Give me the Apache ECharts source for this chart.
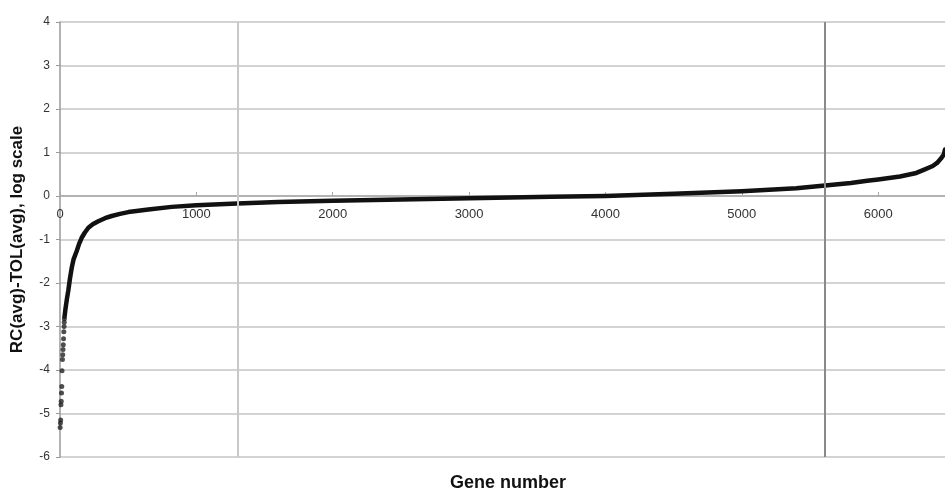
<!DOCTYPE html>
<html>
<head>
<meta charset="utf-8">
<script src="https://cdn.jsdelivr.net/npm/echarts@6/dist/echarts.min.js"></script>
<style>html,body{margin:0;padding:0;background:#fff}#c{width:945px;height:494px}</style>
</head>
<body>
<div id="c"></div>
<script>
// Low tail: individual genes (sorted ascending)
var tailGenes = [1, 3, 5, 7, 9, 11, 13, 15, 18, 20, 22, 24, 26, 28, 30, 31, 32];
var tailValues = [-5.32, -5.22, -5.15, -4.8, -4.72, -4.53, -4.38, -4.02, -3.76, -3.65, -3.53, -3.42, -3.28, -3.12, -3.0, -2.9, -2.82];
var curveGenes = [33, 40, 50, 61, 73, 86, 100, 122, 140, 159, 180, 208, 240, 281, 330, 379, 440, 501, 648, 819, 1000, 1300, 1600, 2000, 2500, 3000, 3600, 4000, 4500, 5000, 5400, 5610, 5800, 5920, 6000, 6160, 6280, 6334, 6400, 6432, 6460, 6481, 6490];
var curveValues = [-2.78, -2.6, -2.38, -2.17, -1.9, -1.65, -1.45, -1.27, -1.1, -0.96, -0.85, -0.73, -0.65, -0.58, -0.51, -0.46, -0.41, -0.37, -0.31, -0.25, -0.21, -0.17, -0.14, -0.11, -0.08, -0.05, -0.02, 0.0, 0.05, 0.11, 0.18, 0.24, 0.3, 0.35, 0.38, 0.45, 0.53, 0.6, 0.69, 0.76, 0.86, 0.95, 1.07];
// Two vertical reference lines visible in the figure
var refLines = [1300, 5610];
var yTicks = [-6, -5, -4, -3, -2, -1, 0, 1, 2, 3, 4];
var xTicks = [0, 1000, 2000, 3000, 4000, 5000, 6000];

var FONT = "'Liberation Sans', Arial, sans-serif";
var tail = tailGenes.map(function (g, i) { return [g, tailValues[i]]; });
var curve = curveGenes.map(function (g, i) { return [g, curveValues[i]]; });

var GRID_TOP = 22, GRID_BOTTOM = 37, H = 494;
var plotH = H - GRID_TOP - GRID_BOTTOM;
var yMin = yTicks[0], yMax = yTicks[yTicks.length - 1];
// distance from bottom edge of the plot up to the value-0 line
var zeroOffset = plotH * (0 - yMin) / (yMax - yMin);

var chart = echarts.init(document.getElementById('c'));
chart.setOption({
  animation: false,
  backgroundColor: '#ffffff',
  grid: { left: 60, right: 0, top: GRID_TOP, bottom: GRID_BOTTOM, containLabel: false },
  xAxis: {
    type: 'value', min: 0, max: 6490, interval: 1000,
    offset: -zeroOffset,
    axisLine: { onZero: false, lineStyle: { color: '#a8a8a8', width: 1.5 } },
    axisTick: { show: true, inside: true, length: 4, lineStyle: { color: '#a8a8a8' } },
    axisLabel: {
      show: true, margin: 12, fontSize: 13, color: '#333', fontFamily: FONT, showMaxLabel: false,
      formatter: function (v) { return xTicks.indexOf(v) >= 0 ? String(v) : ''; }
    },
    splitLine: { show: false }
  },
  yAxis: {
    type: 'value', min: yMin, max: yMax, interval: 1,
    name: 'RC(avg)-TOL(avg), log scale', nameLocation: 'middle', nameGap: 34,
    nameTextStyle: { fontSize: 17, fontWeight: 'bold', color: '#111', fontFamily: FONT },
    axisLine: { show: true, lineStyle: { color: '#999', width: 1.5 } },
    axisTick: { show: true, length: 4, lineStyle: { color: '#999' } },
    axisLabel: { margin: 10, fontSize: 12, color: '#333', fontFamily: FONT },
    splitLine: { show: true, lineStyle: { color: '#c4c4c4', width: 1.5 } }
  },
  graphic: [{
    type: 'text', left: 450, top: 474,
    style: { text: 'Gene number', fontSize: 18, fontWeight: 'bold', fill: '#111', fontFamily: FONT }
  }],
  series: [
    {
      type: 'line', data: curve, smooth: false, showSymbol: false,
      lineStyle: { color: '#111', width: 4.5, join: 'round', cap: 'round' }, z: 3,
      markLine: {
        silent: true, symbol: ['none', 'none'], label: { show: false },
        data: [
          { xAxis: refLines[0], lineStyle: { color: '#c8c8c8', width: 2, type: 'solid' } },
          { xAxis: refLines[1], lineStyle: { color: '#8a8a8a', width: 2, type: 'solid' } }
        ]
      }
    },
    {
      type: 'scatter', data: tail, symbolSize: 5,
      itemStyle: { color: '#222' }, z: 4
    }
  ]
});
</script>
</body>
</html>
